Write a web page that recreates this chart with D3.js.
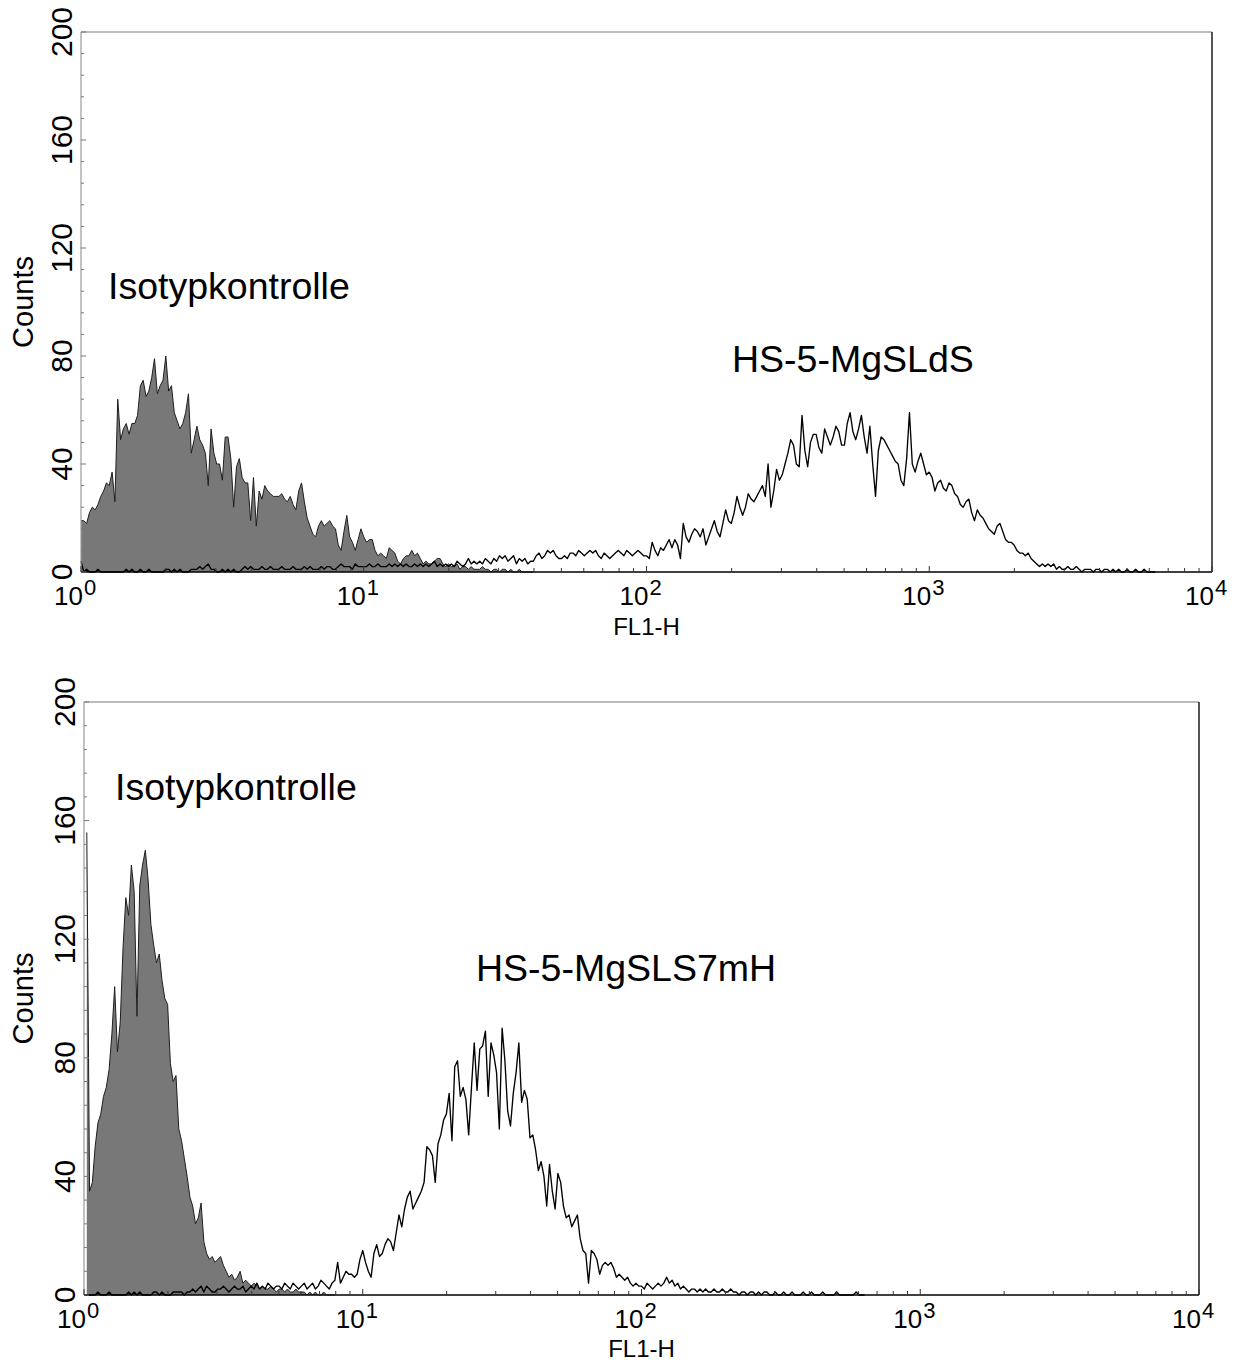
<!DOCTYPE html>
<html><head><meta charset="utf-8">
<script src="https://cdn.jsdelivr.net/npm/d3@7"></script>
<style>
body{margin:0;background:#fff}
svg{display:block}
text{font-family:"Liberation Sans",Arial,Helvetica,sans-serif;fill:#000}
</style>
</head><body>
<svg id="chart" width="1242" height="1363"></svg>
<script>
// ---------- data ----------
const xTickExponents = [0, 1, 2, 3, 4];
const yTickValues = [0, 40, 80, 120, 160, 200];
const xAxisLabel = "FL1-H";
const yAxisLabel = "Counts";
const binStep = 0.01; // log10(FL1-H) per bin

// Panel 1: Isotypkontrolle (filled) vs HS-5-MgSLdS (line)
const topIsoStart = 0.0;
const topIsoCounts = [
 19,19,18,22,24,23,25,28,30,33,
 32,37,26,64,49,53,55,51,55,55,
 58,69,71,65,67,72,79,66,69,71,
 80,67,69,59,56,53,55,59,66,44,
 49,54,49,47,44,32,53,44,40,40,
 34,50,50,42,24,39,42,35,33,33,
 19,35,17,30,27,32,30,29,28,28,
 28,29,27,26,28,25,23,30,33,26,
 20,17,14,13,17,19,17,18,19,17,
 16,10,8,15,21,13,11,8,12,16,
 13,11,12,12,8,6,7,6,5,9,
 8,7,4,3,5,6,6,8,6,7,
 5,3,4,3,3,4,5,5,3,2,
 3,2,2,3,1,2,2,1,2,1,
 1,1,2,1,1,0,1,1,0,1,
 1,0,1,0,0,1,0,0,0,0,0
];
const topSampleStart = 0.0;
const topSampleCounts = [
 4,0,1,0,0,0,1,0,0,0,
 0,0,0,0,0,0,1,0,1,0,
 0,1,0,0,1,0,0,0,0,0,
 1,1,0,1,0,1,0,0,0,1,
 1,1,2,1,2,3,1,1,0,0,
 1,0,1,0,1,0,0,1,2,1,
 2,1,1,1,2,1,1,2,1,1,
 1,2,1,1,1,2,1,1,1,2,
 1,2,1,1,1,2,1,2,2,1,
 1,2,3,2,2,2,1,3,2,2,
 2,2,3,2,2,3,2,2,2,3,
 2,3,2,3,2,3,2,2,3,2,
 3,2,3,2,3,4,2,3,2,3,
 2,3,2,4,3,2,3,5,3,4,
 3,4,3,5,4,3,5,4,6,5,
 6,4,5,6,3,5,4,5,3,4,
 4,6,7,5,6,8,7,8,6,5,
 5,6,5,7,7,6,8,7,6,7,
 8,7,8,6,5,7,6,5,6,7,
 8,7,6,8,7,6,7,8,7,6,
 6,5,11,8,6,9,8,10,12,9,
 12,10,5,18,13,11,14,16,15,13,
 16,10,13,16,19,15,13,18,23,19,
 18,22,28,24,21,24,29,27,26,28,
 30,32,28,40,24,30,38,34,36,40,
 44,49,47,40,39,58,45,39,48,51,
 51,46,44,53,50,47,50,54,52,47,
 47,55,59,52,49,53,58,50,44,54,
 40,28,45,50,49,47,45,43,41,40,
 34,32,42,59,40,37,41,44,40,36,
 37,35,30,33,34,31,30,33,32,29,
 28,25,24,26,27,22,19,23,21,20,
 18,16,15,14,17,18,15,12,11,11,
 10,8,7,7,6,7,5,4,3,2,
 3,2,3,2,3,1,2,1,1,2,
 1,1,2,1,0,1,1,1,0,1,
 1,0,1,1,0,1,0,1,0,0,
 1,0,0,1,0,0,1,0,0,0,0
];

// Panel 2: Isotypkontrolle (filled) vs HS-5-MgSLS7mH (line)
const bottomIsoStart = 0.01;
const bottomIsoCounts = [
 156,35,38,50,58,61,67,70,76,88,
 104,82,92,117,134,128,145,136,94,138,
 145,150,140,125,118,112,115,106,100,98,
 78,72,74,56,52,46,40,33,30,24,
 26,31,18,14,12,13,11,12,13,10,
 8,6,7,5,6,8,4,5,4,3,
 4,3,2,3,2,2,3,2,1,2,
 2,1,2,1,1,2,1,1,1,0,
 1,0,1,0,0,1,0,0,0,0
];
const bottomSampleStart = 0.0;
const bottomSampleCounts = [
 0,0,0,0,0,1,0,0,0,1,
 0,0,0,0,0,0,1,0,1,0,
 1,0,0,0,0,1,1,0,1,0,
 0,0,1,1,1,1,0,1,1,2,
 1,2,3,1,3,2,1,1,2,2,
 3,2,1,2,3,2,2,3,1,2,
 3,2,4,2,3,2,4,3,2,3,
 3,2,4,3,2,4,3,2,3,4,
 2,3,4,2,3,5,4,3,2,4,
 5,11,4,6,8,7,7,6,7,12,
 15,11,8,6,14,17,13,14,17,19,
 18,15,21,27,23,29,33,35,29,31,
 33,35,38,50,49,47,38,51,54,59,
 61,68,52,77,79,67,70,66,54,70,
 85,69,83,84,89,67,85,81,75,56,
 90,79,62,57,68,75,85,65,69,66,
 53,54,49,42,45,40,30,44,35,29,
 41,38,30,26,27,23,25,27,19,15,
 14,4,15,14,12,7,10,11,10,11,
 9,6,7,6,5,6,4,3,4,3,
 3,2,4,3,2,3,4,3,4,6,
 4,5,3,4,2,3,2,1,2,2,
 1,2,1,2,1,1,2,1,1,2,
 1,1,2,1,1,0,1,1,0,1,
 1,0,1,0,1,1,0,0,1,0,
 0,1,0,0,1,0,0,0,1,0,
 0,1,0,0,0,1,0,0,0,0,
 1,0,0,0,0,0,0,1,0,0,0
];

const topLabels = ["Isotypkontrolle", "HS-5-MgSLdS"];
const bottomLabels = ["Isotypkontrolle", "HS-5-MgSLS7mH"];

// ---------- layout ----------
const panels = [
  {left:81, right:1212, top:32, bottom:572, xLabelGap:63,
   iso:[topIsoStart, topIsoCounts], sample:[topSampleStart, topSampleCounts],
   labels: topLabels, labelPos:[[108,299],[732,372]]},
  {left:84, right:1199, top:702, bottom:1295, xLabelGap:62,
   iso:[bottomIsoStart, bottomIsoCounts], sample:[bottomSampleStart, bottomSampleCounts],
   labels: bottomLabels, labelPos:[[115,800],[476,981]]}
];

const svg = d3.select("#chart");

function toPoints(start, counts) {
  return counts.map((c, i) => ({v: Math.pow(10, start + i * binStep), c}));
}

panels.forEach(p => {
  const g = svg.append("g");
  const x = d3.scaleLog().domain([1, 1e4]).range([p.left, p.right]);
  const y = d3.scaleLinear().domain([0, 200]).range([p.bottom, p.top]);

  const isoPts = toPoints(p.iso[0], p.iso[1]);
  const samplePts = toPoints(p.sample[0], p.sample[1]);

  const area = d3.area().x(d => x(d.v)).y0(y(0)).y1(d => y(d.c));
  const line = d3.line().x(d => x(d.v)).y(d => y(d.c));

  g.append("path").datum(isoPts).attr("d", area).attr("fill", "#787878");
  g.append("path").datum(isoPts).attr("d", line)
    .attr("fill", "none").attr("stroke", "#1e1e1e").attr("stroke-width", 1);
  g.append("path").datum(samplePts).attr("d", line)
    .attr("fill", "none").attr("stroke", "#000").attr("stroke-width", 1.35)
    .attr("stroke-linejoin", "round");

  // frame
  g.append("line").attr("x1", p.left).attr("x2", p.right).attr("y1", p.top).attr("y2", p.top)
    .attr("stroke", "#7a7a7a").attr("stroke-width", 1.2);
  g.append("line").attr("x1", p.right).attr("x2", p.right).attr("y1", p.top).attr("y2", p.bottom)
    .attr("stroke", "#2a2a2a").attr("stroke-width", 1.6);
  g.append("line").attr("x1", p.left).attr("x2", p.left).attr("y1", p.top).attr("y2", p.bottom)
    .attr("stroke", "#9a9a9a").attr("stroke-width", 1.2);
  g.append("line").attr("x1", p.left).attr("x2", p.right).attr("y1", p.bottom).attr("y2", p.bottom)
    .attr("stroke", "#000").attr("stroke-width", 1.6);

  // y ticks (inward)
  d3.range(0, 201, 8).forEach(v => {
    const major = v % 40 === 0;
    g.append("line").attr("x1", p.left).attr("x2", p.left + (major ? 5 : 3))
      .attr("y1", y(v)).attr("y2", y(v)).attr("stroke", "#777").attr("stroke-width", 1);
  });
  yTickValues.forEach(v => {
    g.append("text").attr("transform", `translate(${p.left - 9},${y(v)}) rotate(-90)`)
      .attr("text-anchor", "middle").attr("font-size", 30).text(v);
  });
  g.append("text").attr("transform", `translate(33,${(p.top + p.bottom) / 2}) rotate(-90)`)
    .attr("text-anchor", "middle").attr("font-size", 29).text(yAxisLabel);

  // x ticks (inward, log)
  x.ticks().forEach(v => {
    const major = Math.abs(Math.log10(v) - Math.round(Math.log10(v))) < 1e-9;
    g.append("line").attr("x1", x(v)).attr("x2", x(v))
      .attr("y1", p.bottom).attr("y2", p.bottom - (major ? 6 : 4))
      .attr("stroke", "#333").attr("stroke-width", 1);
  });
  xTickExponents.forEach(e => {
    const tx = x(Math.pow(10, e));
    g.append("text").attr("x", tx + 2).attr("y", p.bottom + 33)
      .attr("text-anchor", "end").attr("font-size", 26).text("10");
    g.append("text").attr("x", tx + 3).attr("y", p.bottom + 23)
      .attr("text-anchor", "start").attr("font-size", 22).text(e);
  });
  g.append("text").attr("x", (p.left + p.right) / 2).attr("y", p.bottom + p.xLabelGap)
    .attr("text-anchor", "middle").attr("font-size", 24).text(xAxisLabel);

  // annotations
  p.labels.forEach((t, i) => {
    g.append("text").attr("x", p.labelPos[i][0]).attr("y", p.labelPos[i][1])
      .attr("font-size", 37.5).text(t);
  });
});
</script>
</body></html>
